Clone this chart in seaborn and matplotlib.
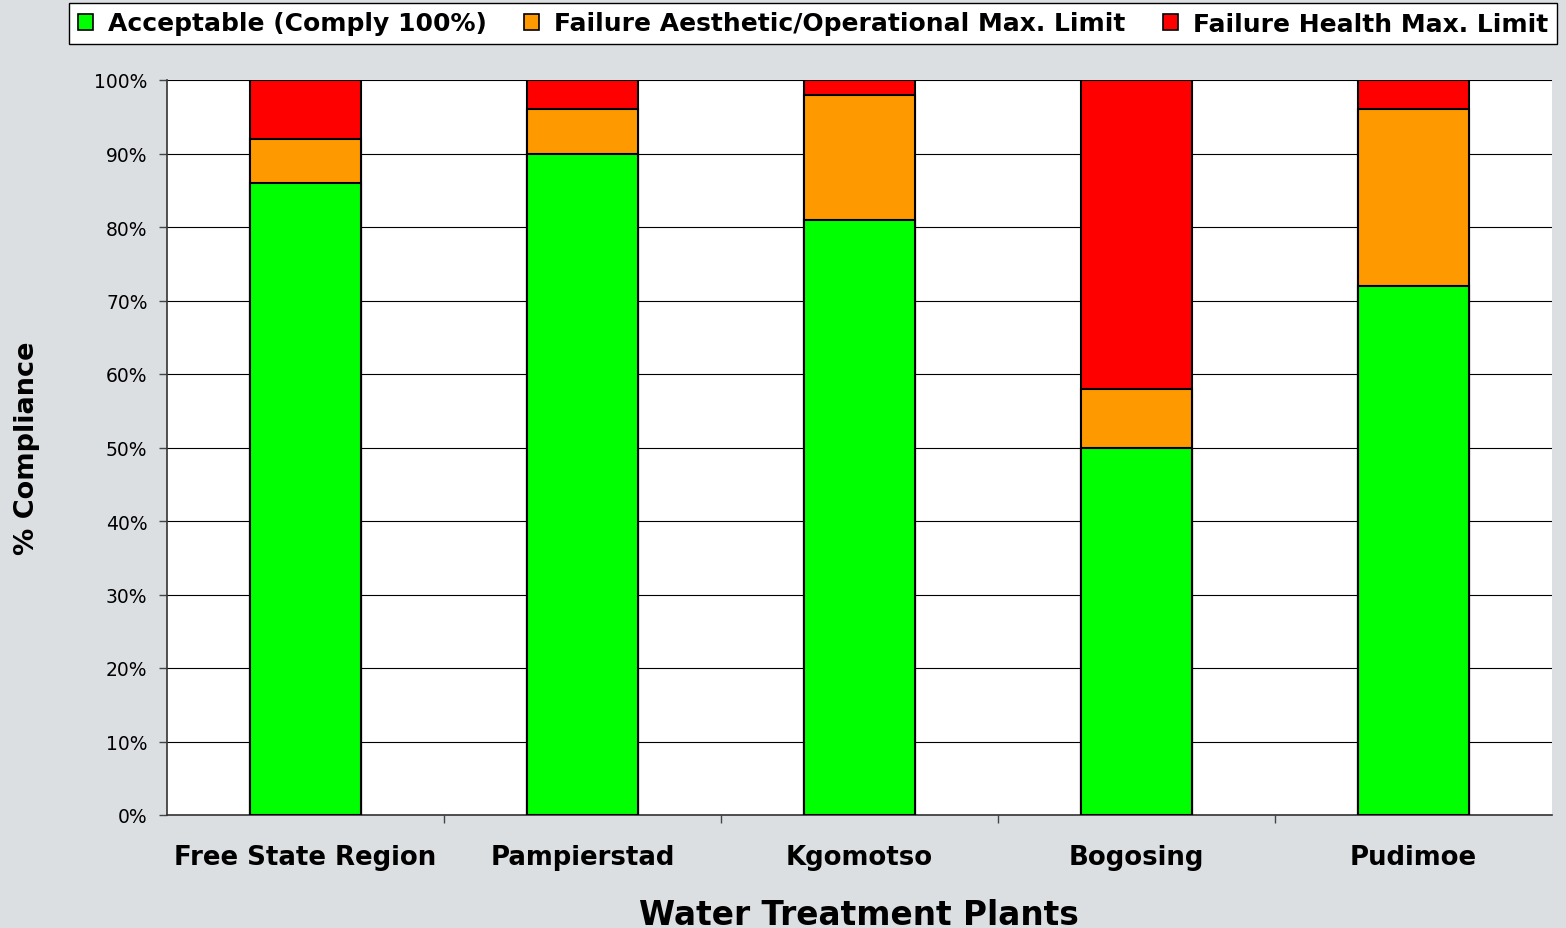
import matplotlib
matplotlib.use("Agg")
import matplotlib.pyplot as plt
import seaborn as sns
import numpy as np
import pandas as pd
from matplotlib.patches import Patch

plants = ["Free State Region", "Pampierstad", "Kgomotso", "Bogosing", "Pudimoe"]
acceptable = [86, 90, 81, 50, 72]
aesthetic = [6, 6, 17, 8, 24]
health = [8, 4, 2, 42, 4]
series_names = ["Acceptable (Comply 100%)", "Failure Aesthetic/Operational Max. Limit",
                "Failure Health Max. Limit"]
colors = ["#00FF00", "#FF9900", "#FF0000"]
yticks = [0, 10, 20, 30, 40, 50, 60, 70, 80, 90, 100]

sns.set_theme(style="white")
plt.rcParams['font.family'] = ['DejaVu Sans']
plt.rcParams.update({"text.color": "black", "axes.labelcolor": "black",
                     "xtick.color": "black", "ytick.color": "black"})

fig = plt.figure(figsize=(15.66, 9.29), dpi=100)
fig.patch.set_facecolor("#dcdfe2")
ax = fig.add_axes([167/1566, 1-816/929, (1552-167)/1566, (816-81)/929])
ax.set_facecolor("white")

acc = np.array(acceptable)
aes = np.array(aesthetic)
hea = np.array(health)
df = pd.DataFrame({
    "plant": plants,
    "top3": acc + aes + hea,
    "top2": acc + aes,
    "top1": acc,
})

for col, c in zip(["top3", "top2", "top1"], colors[::-1]):
    sns.barplot(data=df, x="plant", y=col, color=c, saturation=1, width=0.4,
                edgecolor="black", linewidth=1.5, ax=ax, zorder=3, order=plants)

ax.set_ylim(0, 100)
ax.set_xlim(-0.5, len(plants) - 0.5)
ax.set_yticks(yticks)
ax.set_yticklabels([f"{v}%" for v in yticks], fontsize=13.5)
ax.yaxis.grid(True, color="black", linewidth=0.8, zorder=0)
ax.set_axisbelow(True)
ax.tick_params(axis="y", direction="out", length=6, width=1, color="#444444", left=True, pad=8)
ax.set_xticks(range(len(plants)))
ax.set_xticklabels(plants, fontsize=18.7, fontweight="bold")
ax.tick_params(axis="x", length=0, pad=21)
ax.set_xticks(np.arange(0.5, len(plants) - 0.5, 1), minor=True)
ax.tick_params(axis="x", which="minor", direction="out", length=6, width=1, color="#444444", bottom=True)

for s in ["top", "right"]:
    ax.spines[s].set_visible(False)
for s in ["left", "bottom"]:
    ax.spines[s].set_visible(True)
    ax.spines[s].set_color("#333333")
    ax.spines[s].set_linewidth(1.2)

ax.set_xlabel("Water Treatment Plants", fontsize=23.6, fontweight="bold")
ax.xaxis.set_label_coords(0.4993, -0.113)
ax.set_ylabel("% Compliance", fontsize=19.5, fontweight="bold")
ax.yaxis.set_label_coords(-0.0917, 0.5)

handles = [Patch(facecolor=c, edgecolor="black", linewidth=1.2) for c in colors]
leg = fig.legend(handles, series_names, loc="center", bbox_to_anchor=(813/1566, 1-24.5/929),
                 ncol=3, frameon=True, fancybox=False, edgecolor="black", facecolor="white",
                 framealpha=1, prop={"weight": "bold", "size": 18},
                 handlelength=0.6, handleheight=0.6,
                 handletextpad=0.6, columnspacing=1.5, borderpad=0.35)
leg.get_frame().set_linewidth(1)

fig.savefig("out.png", dpi=100, facecolor=fig.get_facecolor())
